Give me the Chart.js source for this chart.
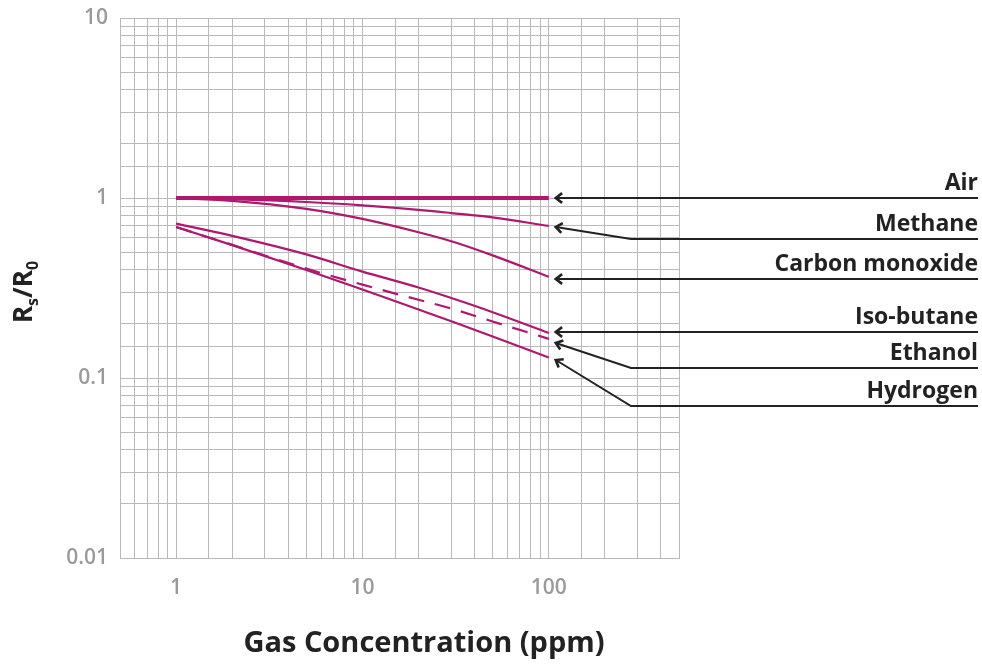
<!DOCTYPE html>
<html>
<head>
<meta charset="utf-8">
<script src="https://cdn.jsdelivr.net/npm/chart.js@4.4.1/dist/chart.umd.min.js"></script>
<style>
  html, body { margin: 0; padding: 0; background: #ffffff; }
  #wrap { width: 982px; height: 666px; position: relative; }
</style>
</head>
<body>
<div id="wrap"><canvas id="c" width="982" height="666"></canvas></div>
<script>
// ---- data ----
const concentrations = [1, 2, 5, 10, 20, 30, 50, 100];
const seriesNames = ['Air', 'Methane', 'Carbon monoxide', 'Iso-butane', 'Ethanol', 'Hydrogen'];
const air            = [1.00, 1.00, 1.00, 1.00, 1.00, 1.00, 1.00, 1.00];
const methane        = [1.00, 0.985, 0.95, 0.91, 0.86, 0.825, 0.78, 0.70];
const carbonMonoxide = [1.00, 0.965, 0.87, 0.765, 0.645, 0.575, 0.48, 0.365];
const isoButane      = [0.72, 0.616, 0.486, 0.39, 0.318, 0.278, 0.232, 0.178];
const ethanol        = [0.69, 0.549, 0.405, 0.33, 0.272, 0.243, 0.206, 0.165];
const hydrogen       = [0.69, 0.547, 0.398, 0.31, 0.24, 0.2065, 0.17, 0.13];
const xTickLabels = ['1', '10', '100'];
const yTickLabels = ['0.01', '0.1', '1', '10'];
const xTitle = 'Gas Concentration (ppm)';

// ---- styling / layout ----
const MAGENTA = '#b0176f';
const GRID = '#b9b9b9';
const TICKCOL = '#9a9a9a';
const DARK = '#222222';
const FONT = '"Open Sans", "Noto Sans", sans-serif';

const allValues = [air, methane, carbonMonoxide, isoButane, ethanol, hydrogen];
function pts(vals) { return concentrations.map((c, i) => ({ x: c, y: vals[i] })); }

// annotation layout: which series, y of the label rule (null = straight to the curve end), arrow tip offset
const annotationLayout = [
  { series: 0, ruleY: null, tipDy: 0 },
  { series: 1, ruleY: 239, tipDy: 1 },
  { series: 2, ruleY: null, tipDy: 2 },
  { series: 3, ruleY: null, tipDy: -1 },
  { series: 4, ruleY: 368, tipDy: 4 },
  { series: 5, ruleY: 406, tipDy: 3 },
];

function isPow10(v) {
  const l = Math.log10(v);
  return Math.abs(l - Math.round(l)) < 1e-9;
}
function fmt(v) {
  const l = Math.round(Math.log10(v));
  return l >= 0 ? String(Math.pow(10, l)) : Math.pow(10, l).toFixed(-l);
}

const annotationPlugin = {
  id: 'annotations',
  afterDraw(chart) {
    const ctx = chart.ctx;
    const xs = chart.scales.x, ys = chart.scales.y;
    const rightEdge = 978;
    const tipX = xs.getPixelForValue(concentrations[concentrations.length - 1]) + 7;
    const elbowX = 631;
    ctx.save();
    ctx.strokeStyle = DARK;
    ctx.fillStyle = DARK;
    ctx.font = '700 23px ' + FONT;
    ctx.textAlign = 'right';
    ctx.textBaseline = 'alphabetic';
    annotationLayout.forEach(a => {
      const vals = allValues[a.series];
      const tipY = Math.round(ys.getPixelForValue(vals[vals.length - 1]) + a.tipDy);
      const ruleY = a.ruleY === null ? tipY : a.ruleY;
      ctx.lineWidth = 2;
      ctx.beginPath();
      if (a.ruleY === null) {
        ctx.moveTo(rightEdge, ruleY);
        ctx.lineTo(tipX, tipY);
      } else {
        ctx.moveTo(rightEdge, ruleY);
        ctx.lineTo(elbowX, ruleY);
        ctx.lineTo(tipX, tipY);
      }
      ctx.stroke();
      // arrow head
      const ang = a.ruleY === null ? 0 : Math.atan2(ruleY - tipY, elbowX - tipX);
      const L = 8, W = 0.65;
      ctx.lineWidth = 2.6;
      ctx.beginPath();
      ctx.moveTo(tipX + L * Math.cos(ang - W), tipY + L * Math.sin(ang - W));
      ctx.lineTo(tipX, tipY);
      ctx.lineTo(tipX + L * Math.cos(ang + W), tipY + L * Math.sin(ang + W));
      ctx.stroke();
      ctx.fillText(seriesNames[a.series], rightEdge, ruleY - 8);
    });
    ctx.restore();

    // x axis title
    ctx.save();
    ctx.fillStyle = DARK;
    ctx.font = '700 29px ' + FONT;
    ctx.textAlign = 'center';
    ctx.textBaseline = 'alphabetic';
    ctx.fillText(xTitle, 424, 652);
    ctx.restore();

    // y axis title  R_s / R_0 (rotated)
    ctx.save();
    ctx.translate(32, 292);
    ctx.rotate(-Math.PI / 2);
    ctx.fillStyle = DARK;
    const big = '700 26px ' + FONT, small = '700 16px ' + FONT;
    const parts = [
      { t: 'R', f: big, dy: 0 },
      { t: 's', f: small, dy: 6 },
      { t: '/', f: big, dy: 0 },
      { t: 'R', f: big, dy: 0 },
      { t: '0', f: small, dy: 6 },
    ];
    let total = 0;
    parts.forEach(p => { ctx.font = p.f; p.w = ctx.measureText(p.t).width; total += p.w; });
    let x = -total / 2;
    ctx.textBaseline = 'alphabetic';
    ctx.textAlign = 'left';
    parts.forEach(p => { ctx.font = p.f; ctx.fillText(p.t, x, p.dy); x += p.w; });
    ctx.restore();
  }
};

function ds(label, vals, width, dash) {
  return {
    label: label,
    data: pts(vals),
    borderColor: MAGENTA,
    backgroundColor: MAGENTA,
    borderWidth: width,
    borderDash: dash || [],
    pointRadius: 0,
    fill: false,
    cubicInterpolationMode: 'monotone',
    borderCapStyle: 'butt'
  };
}

new Chart(document.getElementById('c'), {
  type: 'line',
  data: {
    datasets: [
      ds(seriesNames[1], methane, 2.2),
      ds(seriesNames[2], carbonMonoxide, 2.2),
      ds(seriesNames[3], isoButane, 2.2),
      ds(seriesNames[4], ethanol, 2.2, [16, 11]),
      ds(seriesNames[5], hydrogen, 2.2),
      ds(seriesNames[0], air, 3.8),
    ]
  },
  options: {
    responsive: false,
    animation: false,
    devicePixelRatio: 1,
    layout: { padding: { top: 18, right: 303, left: 0, bottom: 0 } },
    plugins: { legend: { display: false }, tooltip: { enabled: false } },
    scales: {
      x: {
        type: 'logarithmic',
        min: 0.5, max: 500,
        grid: { color: GRID, lineWidth: 1, drawTicks: false },
        border: { color: GRID, width: 1 },
        ticks: {
          autoSkip: false, maxRotation: 0, padding: 17,
          color: TICKCOL, font: { family: FONT, size: 21, weight: '600' },
          callback: (v) => (isPow10(v) && xTickLabels.includes(fmt(v))) ? fmt(v) : ''
        },
        afterFit: (s) => { s.height = 108; s.paddingLeft = 0; s.paddingRight = 0; }
      },
      y: {
        type: 'logarithmic',
        min: 0.01, max: 10,
        grid: { color: GRID, lineWidth: 1, drawTicks: false },
        border: { color: GRID, width: 1 },
        ticks: {
          autoSkip: false, padding: 12,
          color: TICKCOL, font: { family: FONT, size: 21, weight: '600' },
          callback: (v) => (isPow10(v) && yTickLabels.includes(fmt(v))) ? fmt(v) : ''
        },
        afterFit: (s) => { s.width = 120; s.paddingTop = 0; s.paddingBottom = 0; }
      }
    }
  },
  plugins: [annotationPlugin]
});
</script>
</body>
</html>
